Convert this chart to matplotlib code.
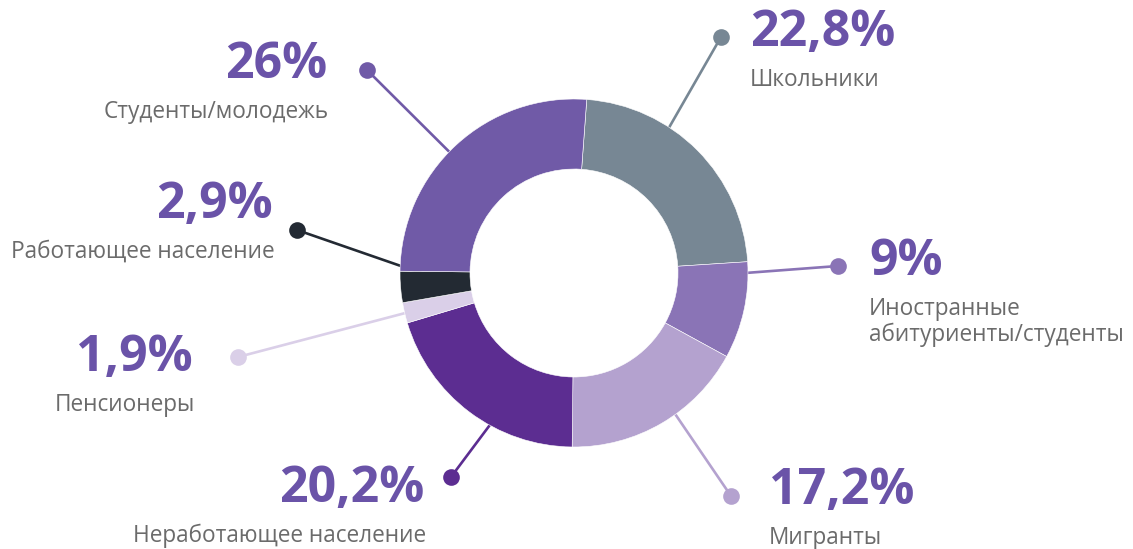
import matplotlib
matplotlib.use('Agg')
import matplotlib.pyplot as plt
import numpy as np

# данные
labels = ['Школьники', 'Иностранные\nабитуриенты/студенты', 'Мигранты',
          'Неработающее население', 'Пенсионеры', 'Работающее население',
          'Студенты/молодежь']
values = [22.8, 9, 17.2, 20.2, 1.9, 2.9, 26]
pct_text = ['22,8%', '9%', '17,2%', '20,2%', '1,9%', '2,9%', '26%']
colors = ['#778794', '#8a74b6', '#b4a2cf', '#5c2d91', '#dacfe8', '#232a33', '#705aa7']

# где линия касается кольца (угол, град) и где стоит точка (px)
anchor_ang = [56, -1, -54, -117, -167, -178, 136]
dot_xy = [(721, 37), (838, 266), (731, 496), (451, 477), (238, 357), (297, 230), (367, 70)]
# текст: x, y процента, выравнивание
txt_pos = [(750, 33, 'left'), (869, 262, 'left'), (769, 491, 'left'),
           (424, 489, 'right'), (193, 358, 'right'), (273, 205, 'right'),
           (327, 65, 'right')]

W, H = 1133, 549
fig = plt.figure(figsize=(W / 100, H / 100), dpi=100)
ax = fig.add_axes([0, 0, 1, 1])

cx, cy = 574, H - 273
R = 174
width = 70

ax.pie(values, colors=colors, startangle=85.8, counterclock=False,
       center=(cx, cy), radius=R, frame=True,
       wedgeprops=dict(width=width, edgecolor='white', linewidth=0.4, zorder=3))
ax.set_xlim(0, W)
ax.set_ylim(0, H)
ax.set_aspect('equal')
ax.axis('off')

pct_color = '#6a53a8'
lab_color = '#6b6b6b'

for i in range(len(values)):
    a = np.deg2rad(anchor_ang[i])
    r0 = R - width / 2
    x0, y0 = cx + r0 * np.cos(a), cy + r0 * np.sin(a)
    dx, dy = dot_xy[i][0], H - dot_xy[i][1]
    ax.plot([x0, dx], [y0, dy], color=colors[i], lw=1.9, zorder=1,
            solid_capstyle='butt')
    ax.plot(dx, dy, 'o', color=colors[i], ms=12, mec='none', zorder=4)

    tx, ty, ha = txt_pos[i]
    ax.text(tx, H - ty, pct_text[i], ha=ha, va='center', color=pct_color,
            fontsize=36, fontweight='bold', family='Open Sans')
    lines = labels[i].split('\n')
    for j, ln in enumerate(lines):
        ax.text(tx + (2 if ha == 'right' else 0), H - ty - 47 - j * 26, ln,
                ha=ha, va='center', color=lab_color, fontsize=16.3,
                family='Open Sans')

fig.savefig('out.png', dpi=100, facecolor='white')
